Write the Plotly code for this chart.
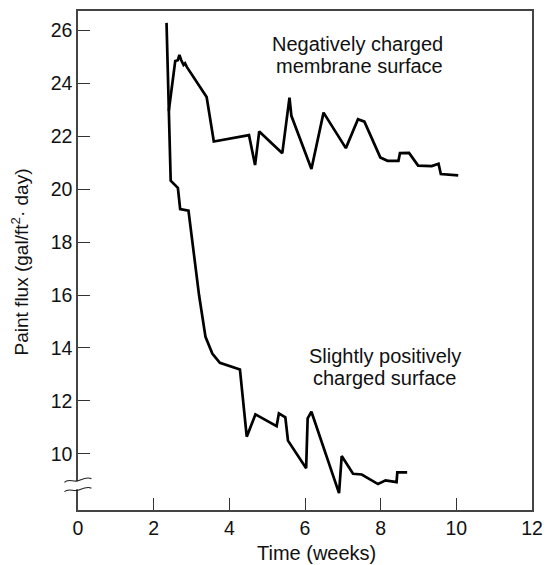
import plotly.graph_objects as go

# Negatively charged membrane surface
neg_x = [2.40, 2.57, 2.64, 2.68, 2.73, 2.79, 2.83, 2.88, 3.40, 3.59, 4.52, 4.68, 4.79,
         5.40, 5.59, 5.64, 6.17, 6.49, 7.08, 7.40, 7.57, 7.99, 8.18, 8.47, 8.51, 8.75,
         8.99, 9.35, 9.53, 9.59, 10.05]
neg_y = [22.96, 24.84, 24.87, 25.07, 24.87, 24.69, 24.75, 24.61, 23.48, 21.80, 22.04, 20.91, 22.18,
         21.36, 23.46, 22.77, 20.76, 22.89, 21.55, 22.64, 22.55, 21.20, 21.07, 21.07, 21.36, 21.37,
         20.89, 20.87, 20.96, 20.57, 20.52]

# Slightly positively charged surface
pos_x = [2.34, 2.45, 2.64, 2.70, 2.92, 3.20, 3.37, 3.55, 3.75, 4.28, 4.46, 4.69, 5.25,
         5.31, 5.48, 5.55, 6.03, 6.07, 6.17, 6.90, 6.97, 7.27, 7.50, 7.93, 8.13, 8.42,
         8.44, 8.70]
pos_y = [26.28, 20.32, 20.05, 19.25, 19.19, 15.99, 14.42, 13.79, 13.44, 13.19, 10.65, 11.49, 11.05,
         11.53, 11.38, 10.50, 9.46, 11.34, 11.59, 8.52, 9.92, 9.25, 9.22, 8.86, 9.00, 8.93,
         9.30, 9.30]

x_ticks = [0, 2, 4, 6, 8, 10, 12]
y_ticks = [10, 12, 14, 16, 18, 20, 22, 24, 26]

FONT = "Liberation Sans, Arial, Helvetica, sans-serif"
TXT = "#111"
W, H = 553, 565
L, R, T, B = 78.3, 12.3, 9.7, 54.7
YMIN, YMAX = 7.88, 26.73
PW = W - L - R
PH = H - T - B


def px2y(py):
    return YMIN + (H - B - py) / PH * (YMAX - YMIN)


def px2xp(px):
    return (px - L) / PW


def px2yp(py):
    return (H - B - py) / PH


fig = go.Figure()
fig.add_trace(go.Scatter(x=neg_x, y=neg_y, mode="lines",
                         line=dict(color="black", width=2.7), showlegend=False))
fig.add_trace(go.Scatter(x=pos_x, y=pos_y, mode="lines",
                         line=dict(color="black", width=2.7), showlegend=False))

shapes = []
# cover axis between the break marks
shapes.append(dict(type="rect", xref="paper", yref="y",
                   x0=px2xp(74), x1=px2xp(83), y0=px2y(489.5), y1=px2y(481.5),
                   fillcolor="white", line=dict(width=0), layer="above"))
for yc in (481.0, 490.5):
    p = "M {:.5f},{:.5f} C {:.5f},{:.5f} {:.5f},{:.5f} {:.5f},{:.5f} C {:.5f},{:.5f} {:.5f},{:.5f} {:.5f},{:.5f}".format(
        px2xp(64.5), px2y(yc + 1.5),
        px2xp(68), px2y(yc - 2.5), px2xp(74), px2y(yc + 1.5), px2xp(78.3), px2y(yc),
        px2xp(82.5), px2y(yc - 1.5), px2xp(88), px2y(yc - 4.5), px2xp(92), px2y(yc - 2))
    shapes.append(dict(type="path", xref="paper", yref="y", path=p,
                       line=dict(color="#222", width=1.1), layer="above"))


def label(text, cx, cy, size=20, angle=0):
    return dict(xref="paper", yref="paper", x=px2xp(cx), y=px2yp(cy), text=text,
                showarrow=False, xanchor="center", yanchor="middle", textangle=angle,
                font=dict(family=FONT, size=size, color=TXT))


annotations = [
    label("Negatively charged", 363, 42.5),
    label("membrane surface", 365, 65),
    label("Slightly positively", 391, 356),
    label("charged surface", 390, 377.5),
    label("Time (weeks)", 321, 553.5),
    label("Paint flux (gal/ft<sup>2</sup>· day)", 19.5, 261.7, size=19, angle=-90),
]

fig.update_layout(
    width=W, height=H,
    margin=dict(l=L, r=R, t=T, b=B, pad=0),
    plot_bgcolor="white", paper_bgcolor="white",
    font=dict(family=FONT, size=19.5, color=TXT),
    shapes=shapes, annotations=annotations,
    xaxis=dict(range=[0, 12], tickvals=x_ticks, ticks="inside", ticklen=12, tickwidth=1.3,
               tickcolor="#333", showline=True, linecolor="#444", linewidth=1.5, mirror=True,
               showgrid=False, zeroline=False,
               tickfont=dict(size=19.5, family=FONT, color=TXT)),
    yaxis=dict(range=[YMIN, YMAX], tickvals=y_ticks, ticks="inside", ticklen=12, tickwidth=1.3,
               tickcolor="#333", showline=True, linecolor="#444", linewidth=1.5, mirror=True,
               showgrid=False, zeroline=False,
               tickfont=dict(size=19.5, family=FONT, color=TXT)),
)

fig.write_html("out.html", config={"displayModeBar": False},
               post_script="document.body.style.margin='0';document.body.style.overflow='hidden';")
